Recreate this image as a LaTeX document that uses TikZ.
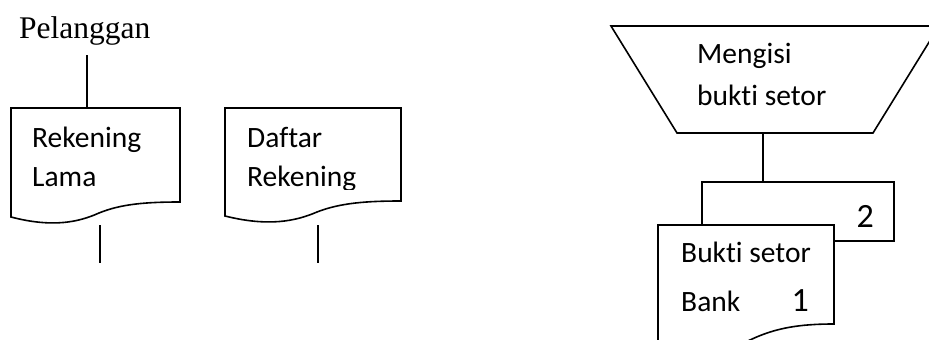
\documentclass[tikz,border=0pt]{standalone}
\usepackage{fontspec}
\setmainfont{Carlito}[Ligatures=NoCommon]
\newfontfamily\serifface{Liberation Serif}
\begin{document}
\begin{tikzpicture}[x=1pt,y=-1pt,
  shapeline/.style={draw=black,line width=1.6pt,line join=miter},
  link/.style={draw=black,line width=1.6pt},
  label/.style={inner sep=0pt,anchor=base west,font=\fontsize{29.5}{29.5}\selectfont},
  num/.style={inner sep=0pt,anchor=base east,font=\fontsize{34}{34}\selectfont}]
\useasboundingbox (0,0) rectangle (929,340);
\clip (0,0) rectangle (929,340);
\fill[white] (0,0) rectangle (929,340);

% source entity
\node[inner sep=0pt,anchor=base west,font=\serifface\fontsize{31.5}{31.5}\selectfont] (cust) at (19,38) {Pelanggan};
\coordinate (custout) at (87,55);

% document: Rekening Lama
\path[shapeline] (11,108) -- (180,108) -- (180,202)
  .. controls (146,202) and (121,204) .. (99,213)
  .. controls (79,222) and (53,228) .. (11,217) -- cycle;
\coordinate (d1in) at (87,108);
\node[label] (d1a) at (32,147) {Rekening};
\node[label] (d1b) at (32,186) {Lama};
\coordinate (d1out) at (100,225);
\coordinate (d1end) at (100,263);

% document: Daftar Rekening
\path[shapeline] (225,108) -- (401,108) -- (401,201)
  .. controls (366,201) and (340,203) .. (317,212)
  .. controls (296,221) and (269,227) .. (225,216) -- cycle;
\node[label] (d2a) at (247,147) {Daftar};
\begin{scope}
  \clip (230,150) rectangle (396,189);
  \node[label] (d2b) at (247,186) {Rekening};
\end{scope}
\coordinate (d2out) at (318,225);
\coordinate (d2end) at (318,263);

% manual operation
\path[shapeline] (611,26) -- (939,26) -- (873,133) -- (677,133) -- cycle;
\node[label] (m1) at (697,63) {Mengisi};
\node[label] (m2) at (697,105) {bukti setor};
\coordinate (mout) at (763,133);

% copy 2 (behind)
\path[shapeline] (702,182) rectangle (894,241);
\coordinate (c2in) at (763,182);
\node[num] (n2) at (874,227) {2};

% copy 1 (front)
\path[shapeline,fill=white] (658,225) -- (834,225) -- (834,324)
  .. controls (799,324) and (775,328) .. (750,340)
  .. controls (729,350) and (702,354) .. (658,343) -- cycle;
\node[label] (b1) at (681,262) {Bukti setor};
\node[label] (b2) at (681,311) {Bank};
\node[num] (n1) at (809,311) {1};

% connectors
\draw[link] (custout) -- (d1in);
\draw[link] (d1out) -- (d1end);
\draw[link] (d2out) -- (d2end);
\draw[link] (mout) -- (c2in);
\end{tikzpicture}
\end{document}
